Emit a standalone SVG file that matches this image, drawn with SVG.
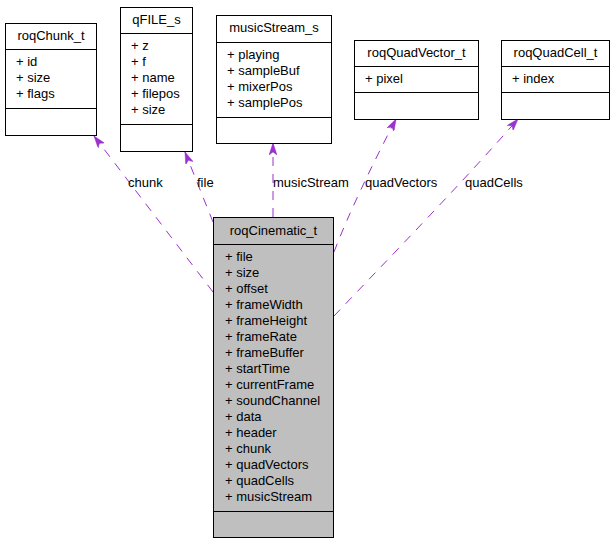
<svg xmlns="http://www.w3.org/2000/svg" width="613" height="544" viewBox="0 0 613 544">
<style>
text{font-family:"Liberation Sans",Arial,sans-serif;font-size:13px;fill:#000}
.c{text-anchor:middle}
.box{fill:#fff;stroke:#000;stroke-width:1}
.main{fill:#bfbfbf;stroke:#000;stroke-width:1}
.sep{stroke:#000;stroke-width:1}
.edge{fill:none;stroke:#9a32cd;stroke-width:1;stroke-dasharray:9,8}
</style>
<defs>
<marker id="arr" viewBox="0 0 12 8" refX="12" refY="4" markerWidth="12" markerHeight="8" markerUnits="userSpaceOnUse" orient="auto">
<path d="M0,0 L12,4 L0,8 L3,4 z" fill="#9a32cd" stroke="#9a32cd" stroke-width="0.5"/>
</marker>
</defs>
<rect width="613" height="544" fill="#fff"/>
<g id="edges">
<path class="edge" d="M213,292 L94,136" marker-end="url(#arr)"/>
<path class="edge" d="M213,222 L185,152" marker-end="url(#arr)"/>
<path class="edge" d="M273,217 L273,143" marker-end="url(#arr)"/>
<path class="edge" d="M334,252 C348,215 372,165 396,119" marker-end="url(#arr)"/>
<path class="edge" d="M334,316 C392,255 462,183 518,119" marker-end="url(#arr)"/>
<text x="128" y="187">chunk</text>
<text x="197" y="187">file</text>
<text x="273" y="187">musicStream</text>
<text x="365" y="187">quadVectors</text>
<text x="465" y="187">quadCells</text>
</g>
<g id="roqChunk_t">
<rect class="box" x="5.5" y="23.5" width="91" height="112"/>
<line class="sep" x1="5.5" y1="49.5" x2="96.5" y2="49.5"/>
<line class="sep" x1="5.5" y1="108.5" x2="96.5" y2="108.5"/>
<text class="c" x="51" y="40">roqChunk_t</text>
<text x="16" y="66">+ id</text>
<text x="16" y="82">+ size</text>
<text x="16" y="98">+ flags</text>
</g>
<g id="qFILE_s">
<rect class="box" x="120.5" y="7.5" width="72" height="144"/>
<line class="sep" x1="120.5" y1="33.5" x2="192.5" y2="33.5"/>
<line class="sep" x1="120.5" y1="124.5" x2="192.5" y2="124.5"/>
<text class="c" x="156.5" y="24">qFILE_s</text>
<text x="131" y="50">+ z</text>
<text x="131" y="66">+ f</text>
<text x="131" y="82">+ name</text>
<text x="131" y="98">+ filepos</text>
<text x="131" y="114">+ size</text>
</g>
<g id="musicStream_s">
<rect class="box" x="216.5" y="15.5" width="115" height="128"/>
<line class="sep" x1="216.5" y1="42.5" x2="331.5" y2="42.5"/>
<line class="sep" x1="216.5" y1="117.5" x2="331.5" y2="117.5"/>
<text class="c" x="274" y="32">musicStream_s</text>
<text x="227" y="59">+ playing</text>
<text x="227" y="75">+ sampleBuf</text>
<text x="227" y="91">+ mixerPos</text>
<text x="227" y="107">+ samplePos</text>
</g>
<g id="roqQuadVector_t">
<rect class="box" x="354.5" y="40.5" width="124" height="79"/>
<line class="sep" x1="354.5" y1="66.5" x2="478.5" y2="66.5"/>
<line class="sep" x1="354.5" y1="92.5" x2="478.5" y2="92.5"/>
<text class="c" x="416.5" y="57">roqQuadVector_t</text>
<text x="365" y="83">+ pixel</text>
</g>
<g id="roqQuadCell_t">
<rect class="box" x="501.5" y="40.5" width="108" height="79"/>
<line class="sep" x1="501.5" y1="66.5" x2="609.5" y2="66.5"/>
<line class="sep" x1="501.5" y1="92.5" x2="609.5" y2="92.5"/>
<text class="c" x="555.5" y="57">roqQuadCell_t</text>
<text x="512" y="83">+ index</text>
</g>
<g id="roqCinematic_t">
<rect class="main" x="213.5" y="217.5" width="120" height="320"/>
<line class="sep" x1="213.5" y1="244.5" x2="333.5" y2="244.5"/>
<line class="sep" x1="213.5" y1="511.5" x2="333.5" y2="511.5"/>
<text class="c" x="273.5" y="235">roqCinematic_t</text>
<text x="225" y="261">+ file</text>
<text x="225" y="277">+ size</text>
<text x="225" y="293">+ offset</text>
<text x="225" y="309">+ frameWidth</text>
<text x="225" y="325">+ frameHeight</text>
<text x="225" y="341">+ frameRate</text>
<text x="225" y="357">+ frameBuffer</text>
<text x="225" y="373">+ startTime</text>
<text x="225" y="389">+ currentFrame</text>
<text x="225" y="405">+ soundChannel</text>
<text x="225" y="421">+ data</text>
<text x="225" y="437">+ header</text>
<text x="225" y="453">+ chunk</text>
<text x="225" y="469">+ quadVectors</text>
<text x="225" y="485">+ quadCells</text>
<text x="225" y="501">+ musicStream</text>
</g>
</svg>
